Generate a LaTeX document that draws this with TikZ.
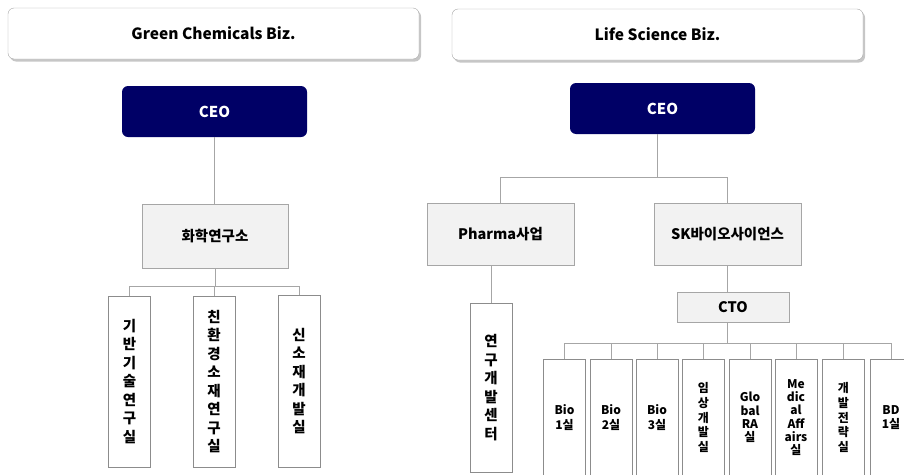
\documentclass[tikz,border=0pt]{standalone}
\usepackage{fontspec}
\setmainfont{Noto Sans CJK KR}
\usetikzlibrary{shadows}
\definecolor{navy}{HTML}{000066}
\definecolor{ln}{HTML}{A6A6A6}
\definecolor{bd}{HTML}{8C8C8C}
\definecolor{midfill}{HTML}{F2F2F2}
\begin{document}
\begin{tikzpicture}[x=1pt,y=-1pt,
  hdr/.style={draw=ln, fill=white, rounded corners=6pt,
    drop shadow={shadow xshift=2pt,shadow yshift=-2.5pt,opacity=0.45},
    minimum width=411pt, minimum height=51pt, inner sep=0pt,
    font=\fontsize{15.5}{19}\selectfont\bfseries},
  ceo/.style={fill=navy, text=white, rounded corners=6pt,
    minimum width=185pt, minimum height=51pt, inner sep=0pt,
    font=\fontsize{15}{18}\selectfont\bfseries},
  midbox/.style={draw=ln, fill=midfill, line width=0.8pt, inner sep=0pt,
    font=\fontsize{14.5}{18}\selectfont\bfseries},
  vbox/.style={draw=bd, fill=white, line width=0.8pt, inner sep=0pt,
    minimum width=42pt, align=center,
    font=\fontsize{14.5}{18.5}\selectfont\bfseries},
  sbox/.style={draw=bd, fill=white, line width=0.8pt, inner sep=0pt,
    minimum width=42pt, minimum height=117pt, align=center,
    font=\fontsize{12}{14.6}\selectfont\bfseries},
  tight/.style={font=\fontsize{12}{13.3}\selectfont\bfseries},
  conn/.style={draw=ln, line width=1pt}]
\useasboundingbox (0,0) rectangle (904,474);
% headers
\node[hdr] (hdrL) at (213.5,33.5) {Green Chemicals Biz.};
\node[hdr] (hdrR) at (657.5,34.5) {Life Science Biz.};
% left tree
\node[ceo] (ceoL) at (214.5,111.5) {CEO};
\node[midbox, minimum width=146pt, minimum height=64pt] (lab) at (215,236) {화학연구소};
\node[vbox, minimum height=171pt] (b1) at (129.5,381.5) {기\\반\\기\\술\\연\\구\\실};
\node[vbox, minimum height=171pt] (b2) at (214,381.5) {친\\환\\경\\소\\재\\연\\구\\실};
\node[vbox, minimum height=172pt] (b3) at (299,381) {신\\소\\재\\개\\발\\실};
\coordinate (jL) at (215,286);
\draw[conn] (ceoL.south) -- (ceoL.south |- lab.north);
\draw[conn] (lab.south) -- (lab.south |- jL);
\draw[conn] (b1.north) -- (b1.north |- jL) -- (b3.north |- jL) -- (b3.north);
\draw[conn] (b2.north) -- (b2.north |- jL);
% right tree
\node[ceo] (ceoR) at (662.5,108.5) {CEO};
\node[midbox, minimum width=147pt, minimum height=62pt] (pharma) at (500.5,234) {Pharma사업};
\node[midbox, minimum width=147pt, minimum height=62pt] (sk) at (727.5,234) {SK바이오사이언스};
\node[vbox, minimum height=169pt] (rnd) at (491,387.5) {연\\구\\개\\발\\센\\터};
\node[midbox, minimum width=112pt, minimum height=30pt] (cto) at (733,307) {CTO};
\coordinate (jR) at (657,177);
\draw[conn] (jR |- ceoR.south) -- (jR);
\draw[conn] (pharma.north) -- (pharma.north |- jR) -- (sk.north |- jR) -- (sk.north);
\draw[conn] (rnd.north) -- (rnd.north |- pharma.south);
\draw[conn] (sk.south) -- (sk.south |- cto.north);
\node[sbox] (r1) at (564.5,417.5) {Bio\\1실};
\node[sbox] (r2) at (611,417.5) {Bio\\2실};
\node[sbox] (r3) at (657,417.5) {Bio\\3실};
\node[sbox] (r4) at (703.5,417.5) {임\\상\\개\\발\\실};
\node[sbox, tight] (r5) at (750,417.5) {Glo\\bal\\RA\\실};
\node[sbox, tight] (r6) at (796,417.5) {Me\\dic\\al\\Aff\\airs\\실};
\node[sbox] (r7) at (843.5,417.5) {개\\발\\전\\략\\실};
\node[sbox] (r8) at (891,417.5) {BD\\1실};
\coordinate (jC) at (727,343);
\draw[conn] (jC |- cto.south) -- (jC);
\draw[conn] (r1.north) -- (r1.north |- jC) -- (r8.north |- jC) -- (r8.north);
\foreach \n in {r2,r3,r4,r5,r6,r7}
  \draw[conn] (\n.north) -- (\n.north |- jC);
\end{tikzpicture}
\end{document}
